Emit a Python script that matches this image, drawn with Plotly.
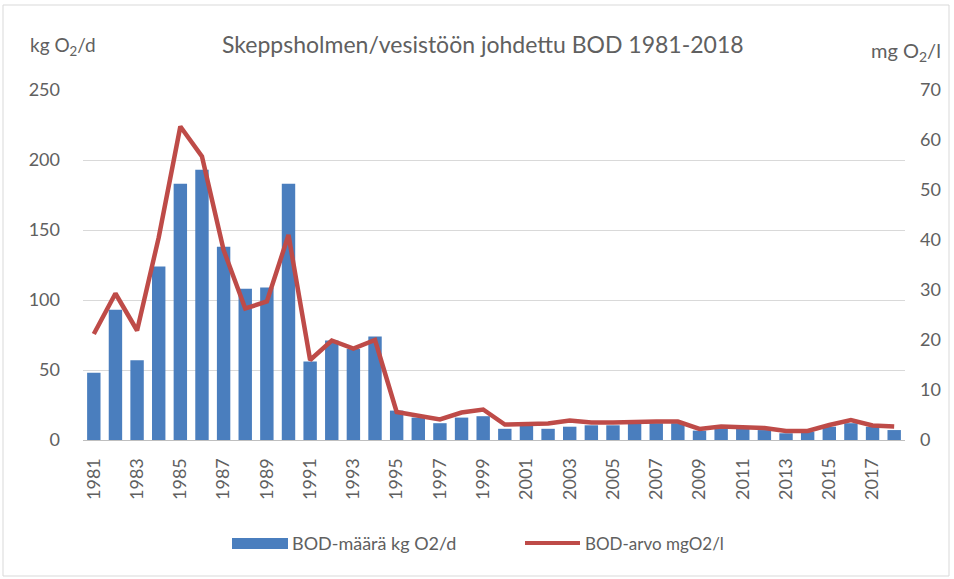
import plotly.graph_objects as go

# BOD discharge into the water body at Skeppsholmen, 1981-2018
years = list(range(1981, 2019))
bod_load_kg_d = [48, 93, 57, 124, 183, 193, 138, 108, 109, 183,
                 56, 71, 65, 74, 21, 16, 12, 16, 17, 8,
                 10, 8, 9.5, 10.5, 10.5, 12, 12, 12, 6.7, 8.3,
                 8.3, 7.1, 4.8, 6, 9.5, 12, 9.5, 7.1]
bod_conc_mg_l = [21.2, 29.3, 21.9, 40.5, 62.7, 56.7, 38, 26.3, 27.7, 41,
                 16, 19.9, 18.3, 20, 5.6, 4.8, 4.1, 5.5, 6.1, 3.1,
                 3.3, 3.3, 3.9, 3.5, 3.5, 3.7, 3.7, 3.7, 2.2, 2.7,
                 2.6, 2.4, 1.8, 1.8, 3.0, 4.0, 2.9, 2.7]

left_ticks = [0, 50, 100, 150, 200, 250]
right_ticks = [0, 10, 20, 30, 40, 50, 60, 70]
year_ticks = list(range(1981, 2019, 2))

title_text = "Skeppsholmen/vesistöön johdettu BOD 1981-2018"
left_unit = "kg O<sub>2</sub>/d"
right_unit = "mg O<sub>2</sub>/l"
bar_name = "BOD-määrä kg O2/d"
line_name = "BOD-arvo mgO2/l"

BAR_COLOR = "#4A7EBE"
LINE_COLOR = "#BE4B48"
TEXT_COLOR = "#606060"
GRID_COLOR = "#D9D9D9"
FONT = "Lato, 'Open Sans', sans-serif"

W, H = 954, 579
L, R, T, B = 83, 49, 90, 139
pw, ph = W - L - R, H - T - B


def px_x(x):
    return (x - L) / pw


def px_y(y):
    return (H - B - y) / ph


fig = go.Figure()
fig.add_trace(go.Bar(
    x=years, y=bod_load_kg_d, name=bar_name,
    marker=dict(color=BAR_COLOR, line=dict(width=0)),
    showlegend=False,
))
fig.add_trace(go.Scatter(
    x=years, y=bod_conc_mg_l, name=line_name, yaxis="y2",
    mode="lines", line=dict(color=LINE_COLOR, width=4.5),
    showlegend=False,
))

fig.update_layout(
    width=W, height=H,
    margin=dict(l=L, r=R, t=T, b=B),
    paper_bgcolor="white", plot_bgcolor="white",
    font=dict(family=FONT, color=TEXT_COLOR, size=18),
    bargap=0.38,
    xaxis=dict(
        range=[1980.5, 2018.5], tickmode="array", tickvals=year_ticks,
        ticktext=[str(y) for y in year_ticks], tickangle=-90,
        showgrid=False, showline=True, linecolor="#BFBFBF", linewidth=1,
        ticks="", ticklabelstandoff=10, tickfont=dict(size=18),
    ),
    yaxis=dict(
        range=[0, 250], tickvals=left_ticks, showgrid=True,
        gridcolor=GRID_COLOR, gridwidth=1, zeroline=False,
        showline=False, ticks="", ticklabelstandoff=22,
        tickfont=dict(size=18),
    ),
    yaxis2=dict(
        range=[0, 70], tickvals=right_ticks, overlaying="y", side="right",
        showgrid=False, zeroline=False, showline=False, ticks="",
        ticklabelstandoff=14, tickfont=dict(size=18),
    ),
)

annotations = [
    dict(text=title_text, x=px_x(483), y=px_y(44), font=dict(size=23)),
    dict(text=left_unit, x=px_x(63), y=px_y(46), font=dict(size=19)),
    dict(text=right_unit, x=px_x(906), y=px_y(51), font=dict(size=20)),
    dict(text=bar_name, x=px_x(290), y=px_y(543), xanchor="left",
         font=dict(size=18)),
    dict(text=line_name, x=px_x(583), y=px_y(543), xanchor="left",
         font=dict(size=17)),
]
for a in annotations:
    a.setdefault("xanchor", "center")
    fig.add_annotation(xref="paper", yref="paper", showarrow=False,
                       yanchor="middle", **a)

shapes = [
    # legend keys
    dict(type="rect", x0=px_x(232), x1=px_x(288), y0=px_y(538), y1=px_y(549),
         fillcolor=BAR_COLOR, line=dict(width=0)),
    dict(type="line", x0=px_x(525), x1=px_x(580), y0=px_y(543), y1=px_y(543),
         line=dict(color=LINE_COLOR, width=4)),
    # chart area border
    dict(type="rect", x0=px_x(3), x1=px_x(949), y0=px_y(5), y1=px_y(576),
         line=dict(color="#D9D9D9", width=1), fillcolor="rgba(0,0,0,0)"),
]
for s in shapes:
    fig.add_shape(xref="paper", yref="paper", layer="below", **s)

fig.write_html("out.html")
